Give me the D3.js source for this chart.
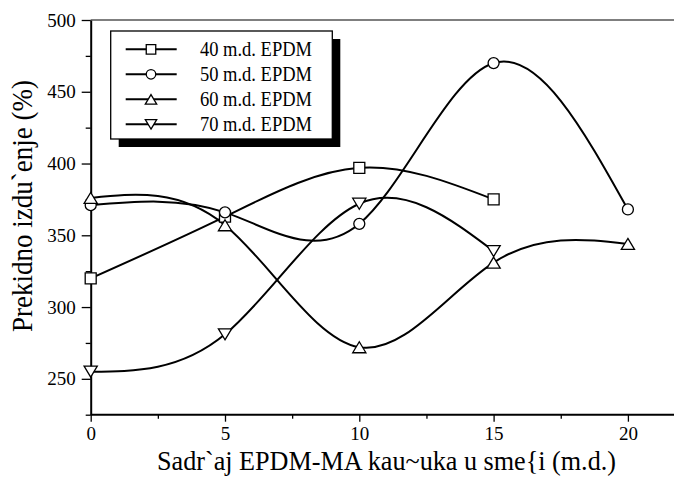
<!DOCTYPE html>
<html>
<head>
<meta charset="utf-8">
<script src="https://cdn.jsdelivr.net/npm/d3@7"></script>
<style>
body { margin: 0; background: #fff; }
text { font-family: "Liberation Serif", "Times New Roman", serif; fill: #000; }
</style>
</head>
<body>
<svg id="chart" width="674" height="477"></svg>
<script>
// data
var xValues = [0, 5, 10, 15, 20];
var seriesNames = ["40 m.d. EPDM", "50 m.d. EPDM", "60 m.d. EPDM", "70 m.d. EPDM"];
var series40 = [320, 363, 397, 375, null];
var series50 = [371, 366, 358, 470, 368];
var series60 = [376, 357, 272, 331, 344];
var series70 = [255, 281, 372, 339, null];
var markerTypes = ["square", "circle", "up", "down"];
var xTicks = [0, 5, 10, 15, 20];
var xMinorTicks = [2.5, 7.5, 12.5, 17.5];
var yTicks = [250, 300, 350, 400, 450, 500];
var yMinorTicks = [225, 275, 325, 375, 425, 475];
var xLabel = "Sadr`aj EPDM-MA kau~uka u sme{i (m.d.)";
var yLabel = "Prekidno izdu`enje (%)";

var svg = d3.select("#chart");
var plotLeft = 90.7, plotTop = 20, plotBottom = 414.7;

var x = d3.scaleLinear().domain([0, 22]).range([plotLeft, plotLeft + 22 * 26.86]);
var y = d3.scaleLinear().domain([225, 500]).range([plotBottom, plotTop]);

function marker(type, s) {
	var h = s / 2;
	if (type == "square") return "M" + (-h) + "," + (-h) + "h" + s + "v" + s + "h" + (-s) + "Z";
	if (type == "circle") return "M" + h + ",0A" + h + "," + h + " 0 1,1 " + (-h) + ",0A" + h + "," + h + " 0 1,1 " + h + ",0Z";
	var w = s * 0.6, t = s * 0.5;
	if (type == "up") return "M0," + (-t) + "L" + w + "," + t + "L" + (-w) + "," + t + "Z";
	return "M0," + t + "L" + w + "," + (-t) + "L" + (-w) + "," + (-t) + "Z";
}

var allSeries = [series40, series50, series60, series70].map(function(vals, i) {
	var pts = [];
	vals.forEach(function(v, j) { if (v != null) pts.push({x: xValues[j], y: v}); });
	return {name: seriesNames[i], type: markerTypes[i], points: pts};
});

// top frame line
svg.append("line")
	.attr("x1", plotLeft).attr("x2", 674).attr("y1", plotTop).attr("y2", plotTop)
	.attr("stroke", "#555").attr("stroke-width", 1.5);

// x axis
var xAxis = svg.append("g").attr("transform", "translate(0," + plotBottom + ")")
	.call(d3.axisBottom(x).tickValues(xTicks).tickSize(7).tickSizeOuter(0).tickPadding(5));
svg.append("g").attr("transform", "translate(0," + plotBottom + ")")
	.call(d3.axisBottom(x).tickValues(xMinorTicks).tickSize(4).tickFormat(""))
	.select(".domain").remove();

// y axis
var yAxis = svg.append("g").attr("transform", "translate(" + plotLeft + ",0)")
	.call(d3.axisLeft(y).tickValues(yTicks).tickSize(9).tickSizeOuter(0).tickPadding(6));
svg.append("g").attr("transform", "translate(" + plotLeft + ",0)")
	.call(d3.axisLeft(y).tickValues(yMinorTicks).tickSize(5).tickFormat(""))
	.select(".domain").remove();

svg.selectAll(".domain").attr("stroke", "#000").attr("stroke-width", 2);
svg.selectAll(".tick line").attr("stroke", "#000").attr("stroke-width", 1.3);
svg.selectAll(".tick text").style("font-size", "19px");
xAxis.select(".domain").attr("d", "M" + plotLeft + ",0H674");

// curves
var line = d3.line()
	.x(function(d) { return x(d.x); })
	.y(function(d) { return y(d.y); })
	.curve(d3.curveNatural);

svg.append("g").selectAll("path")
	.data(allSeries)
	.enter().append("path")
	.attr("d", function(d) { return line(d.points); })
	.attr("fill", "none")
	.attr("stroke", "#000")
	.attr("stroke-width", 2);

allSeries.forEach(function(s) {
	svg.append("g").selectAll("path")
		.data(s.points)
		.enter().append("path")
		.attr("transform", function(d) { return "translate(" + x(d.x) + "," + y(d.y) + ")"; })
		.attr("d", marker(s.type, 11))
		.attr("fill", "#fff")
		.attr("stroke", "#000")
		.attr("stroke-width", 1.3);
});

// legend
var lg = svg.append("g");
lg.append("rect").attr("x", 118.7).attr("y", 39).attr("width", 221.6).attr("height", 108).attr("fill", "#000");
lg.append("rect").attr("x", 110.7).attr("y", 31).attr("width", 221.6).attr("height", 108)
	.attr("fill", "#fff").attr("stroke", "#000").attr("stroke-width", 1.3);

var rows = lg.selectAll(".row")
	.data(allSeries)
	.enter().append("g")
	.attr("transform", function(d, i) { return "translate(0," + (49.3 + i * 25) + ")"; });
rows.append("line").attr("x1", 125.7).attr("x2", 176.7).attr("stroke", "#000").attr("stroke-width", 2);
rows.append("path")
	.attr("transform", "translate(151,0)")
	.attr("d", function(d) { return marker(d.type, 9.5); })
	.attr("fill", "#fff").attr("stroke", "#000").attr("stroke-width", 1.3);
rows.append("text")
	.attr("x", 200).attr("y", 7)
	.attr("textLength", 112).attr("lengthAdjust", "spacingAndGlyphs")
	.style("font-size", "20px")
	.text(function(d) { return d.name; });

// axis titles
svg.append("text")
	.attr("x", 386.5).attr("y", 469.5)
	.attr("text-anchor", "middle")
	.attr("textLength", 459).attr("lengthAdjust", "spacingAndGlyphs")
	.style("font-size", "27px")
	.text(xLabel);

svg.append("text")
	.attr("transform", "translate(32,206) rotate(-90)")
	.attr("text-anchor", "middle")
	.attr("textLength", 252).attr("lengthAdjust", "spacingAndGlyphs")
	.style("font-size", "29px")
	.text(yLabel);
</script>
</body>
</html>
